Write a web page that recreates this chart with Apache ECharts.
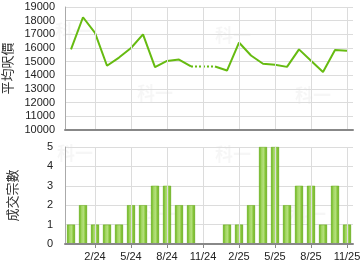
<!DOCTYPE html>
<html><head><meta charset="utf-8">
<script src="https://cdn.jsdelivr.net/npm/echarts@6/dist/echarts.min.js"></script>
<style>html,body{margin:0;padding:0;background:#fff}#c{width:360px;height:270px}</style>
</head><body><div id="c"></div>
<script>
const months = ['12/23','1/24','2/24','3/24','4/24','5/24','6/24','7/24','8/24','9/24','10/24','11/24','12/24',
  '1/25','2/25','3/25','4/25','5/25','6/25','7/25','8/25','9/25','10/25','11/25'];
const avgPrice = [15900,18250,17100,14700,15300,16000,17000,14600,15050,15150,14650,null,14650,
  14350,16400,15450,14850,14780,14620,15900,15060,14250,15850,15800];
const deals = [1,2,1,1,1,2,2,3,3,2,2,0,0,1,1,2,5,5,2,3,3,1,3,1];
const priceTicks = [10000,19000,1000];
const dealTicks = [0,5,1];
const labelEvery = 3;

const bridge = avgPrice.map(() => null);
avgPrice.forEach((v, i) => {
  if (v === null) {
    let a = i - 1, b = i + 1;
    while (a >= 0 && avgPrice[a] === null) a--;
    while (b < avgPrice.length && avgPrice[b] === null) b++;
    if (a >= 0) bridge[a] = avgPrice[a];
    if (b < avgPrice.length) bridge[b] = avgPrice[b];
  }
});

const chart = echarts.init(document.getElementById('c'), null, {renderer: 'canvas'});
const lblFont = {fontFamily: 'Liberation Sans, Arial, sans-serif', fontSize: 11, color: '#222'};
const nameFont = {fontFamily: 'Noto Sans CJK TC, sans-serif', fontSize: 13, color: '#333'};
const gridLine = {show: true, lineStyle: {color: '#dcdcdc', width: 1}};
const showIdx = (i) => i % labelEvery === labelEvery - 1;
const xCat = {
  type: 'category', data: months, boundaryGap: true,
  axisLine: {lineStyle: {color: '#888', width: 2}}, splitLine: {show: false}, z: 5
};
const vLines = months.filter((m, i) => showIdx(i)).map((m) => ({xAxis: m}));
const gridSeries = (g) => ({type: 'line', xAxisIndex: g, yAxisIndex: g, data: months.map(() => null),
  silent: true, z: 1, symbol: 'none',
  markLine: {silent: true, symbol: 'none', label: {show: false}, animation: false,
    lineStyle: {color: '#dcdcdc', width: 1, type: 'solid'}, data: vLines}});
const wm = (x, y) => ({type: 'text', left: x, top: y, silent: true, z: 0,
  style: {text: '科一', fill: 'rgba(0,0,0,0.035)', font: 'bold 18px Noto Sans CJK TC'}});
chart.setOption({
  animation: false,
  grid: [
    {left: 65, top: 7, width: 288, height: 123, containLabel: false, outerBoundsMode: 'none'},
    {left: 65, top: 147, width: 288, height: 97, containLabel: false, outerBoundsMode: 'none'}
  ],
  graphic: [wm(55, 22), wm(137, 84), wm(215, 26), wm(295, 86), wm(57, 144), wm(140, 205), wm(215, 145), wm(290, 205)],
  xAxis: [
    Object.assign({}, xCat, {gridIndex: 0, axisTick: {show: false}, axisLabel: {show: false}}),
    Object.assign({}, xCat, {gridIndex: 1,
      axisTick: {show: true, interval: showIdx, alignWithLabel: true, length: 4, lineStyle: {color: '#888'}},
      axisLabel: Object.assign({interval: showIdx, margin: 7}, lblFont)})
  ],
  yAxis: [
    {type: 'value', gridIndex: 0, min: priceTicks[0], max: priceTicks[1], interval: priceTicks[2],
      name: '平均呎價', nameLocation: 'middle', nameGap: 46, nameTextStyle: nameFont,
      axisLine: {show: true, lineStyle: {color: '#aaa'}}, axisTick: {show: false},
      axisLabel: Object.assign({margin: 10, formatter: (v) => String(v)}, lblFont), splitLine: gridLine},
    {type: 'value', gridIndex: 1, min: dealTicks[0], max: dealTicks[1], interval: dealTicks[2],
      name: '成交宗數', nameLocation: 'middle', nameGap: 46, nameTextStyle: nameFont,
      axisLine: {show: true, lineStyle: {color: '#aaa'}}, axisTick: {show: false},
      axisLabel: Object.assign({margin: 12}, lblFont), splitLine: gridLine}
  ],
  series: [
    gridSeries(0), gridSeries(1),
    {type: 'line', xAxisIndex: 0, yAxisIndex: 0, data: avgPrice, connectNulls: false, symbol: 'none',
      lineStyle: {color: '#66bb11', width: 2}, z: 3},
    {type: 'line', xAxisIndex: 0, yAxisIndex: 0, data: bridge, connectNulls: true, symbol: 'none',
      lineStyle: {color: '#66bb11', width: 2, type: [2, 2]}, z: 3},
    {type: 'bar', xAxisIndex: 1, yAxisIndex: 1, data: deals, barWidth: 8, z: 3,
      itemStyle: {
        color: new echarts.graphic.LinearGradient(0, 0, 1, 0, [
          {offset: 0, color: '#5fae0a'}, {offset: 0.3, color: '#9fd45e'},
          {offset: 0.55, color: '#b4e07c'}, {offset: 0.8, color: '#86c43a'}, {offset: 1, color: '#5aa608'}
        ]),
        borderColor: '#62ad10', borderWidth: 0.5
      }}
  ]
});
</script></body></html>
